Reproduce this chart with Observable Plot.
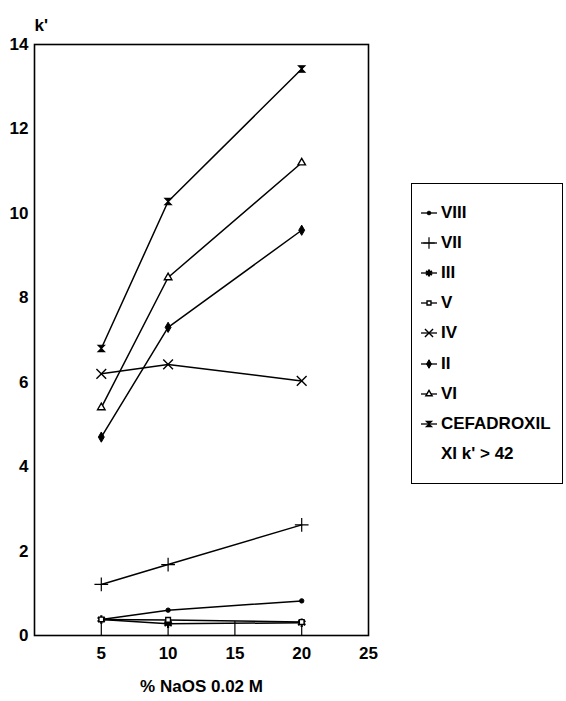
<!DOCTYPE html>
<html><head><meta charset="utf-8">
<script src="https://cdn.jsdelivr.net/npm/d3@7"></script>
<script src="https://cdn.jsdelivr.net/npm/@observablehq/plot@0.6"></script>
<style>
body{margin:0;background:#fff;}
#wrap{position:relative;width:566px;height:701px;font-family:"Liberation Sans",Arial,Helvetica,sans-serif;}
#legend{position:absolute;left:411px;top:183px;width:152px;height:301px;border:1.6px solid #000;box-sizing:border-box;background:#fff;}
.item{position:absolute;left:0;height:30px;display:flex;align-items:center;font-weight:bold;font-size:17px;color:#000;}
.item svg{margin-left:8px;margin-right:3px;}
</style>
</head><body>
<div id="wrap"><div id="chart"></div><div id="legend"></div></div>
<script>
// ---- data ----
const conc = [5, 10, 20];
const seriesNames = ["VIII", "VII", "III", "V", "IV", "II", "VI", "CEFADROXIL"];
const VIII = [0.38, 0.6, 0.82];
const VII = [1.21, 1.68, 2.62];
const III = [0.38, 0.28, 0.3];
const V = [0.38, 0.37, 0.32];
const IV = [6.2, 6.42, 6.03];
const II = [4.7, 7.3, 9.6];
const VI = [5.4, 8.48, 11.2];
const CEFADROXIL = [6.8, 10.28, 13.42];
const xTicks = [5, 10, 15, 20, 25];
const xInnerTicks = [5, 10, 15, 20];
const yTicks = [0, 2, 4, 6, 8, 10, 12, 14];
const noteText = "XI k' > 42";
const xTitle = "% NaOS 0.02 M";
const yTitle = "k'";

const seriesValues = [VIII, VII, III, V, IV, II, VI, CEFADROXIL];
const rows = seriesNames.flatMap((name, i) => conc.map((c, j) => ({series: name, x: c, y: seriesValues[i][j]})));

// custom hourglass symbol
const hourglass = {
  draw(ctx, size) {
    const s = Math.sqrt(size) / 2;
    ctx.moveTo(-s, -s); ctx.lineTo(s, -s); ctx.lineTo(-s, s); ctx.lineTo(s, s); ctx.closePath();
  }
};

const styles = {
  "VIII": {symbol: "circle", r: 2.2, fill: "black", stroke: "black", sw: 1},
  "VII": {symbol: "plus", r: 4.5, fill: "none", stroke: "black", sw: 1.2},
  "III": {symbol: "asterisk", r: 4, fill: "none", stroke: "black", sw: 2.2},
  "V": {symbol: "square2", r: 3, fill: "white", stroke: "black", sw: 1.4},
  "IV": {symbol: "times", r: 4.5, fill: "none", stroke: "black", sw: 1.4},
  "II": {symbol: "diamond", r: 3.1, fill: "black", stroke: "black", sw: 1},
  "VI": {symbol: "triangle2", r: 3.6, fill: "white", stroke: "black", sw: 1.4},
  "CEFADROXIL": {symbol: hourglass, r: 3.6, fill: "black", stroke: "black", sw: 1.2}
};

const marks = [
  Plot.frame({stroke: "black", strokeWidth: 1.6}),
  Plot.tickX(xInnerTicks, {x: d => d, insetTop: 577, stroke: "black", strokeWidth: 1.2}),
  Plot.axisX({ticks: xTicks, tickSize: 0, tickPadding: 11, label: null, fontSize: 17, fontWeight: "bold"}),
  Plot.axisY({ticks: yTicks, tickSize: 0, tickPadding: 6, label: null, fontSize: 17, fontWeight: "bold"}),
  Plot.line(rows, {x: "x", y: "y", z: "series", stroke: "black", strokeWidth: 1.5}),
  ...seriesNames.map(name => {
    const st = styles[name];
    return Plot.dot(rows.filter(d => d.series === name), {x: "x", y: "y", symbol: st.symbol, r: st.r, fill: st.fill, stroke: st.stroke, strokeWidth: st.sw});
  }),
  Plot.text([xTitle], {frameAnchor: "bottom", dy: 56, fontSize: 17, fontWeight: "bold", fill: "black"}),
  Plot.text([yTitle], {frameAnchor: "top-left", dy: -26, dx: 0, textAnchor: "start", fontSize: 17, fontWeight: "bold", fill: "black"})
];

const chart = Plot.plot({
  width: 566, height: 701,
  marginLeft: 34, marginRight: 198, marginTop: 44, marginBottom: 66,
  x: {domain: [0, 25]},
  y: {domain: [0, 14]},
  style: {fontFamily: '"Liberation Sans", Arial, Helvetica, sans-serif', color: "black", background: "white", overflow: "visible"},
  marks
});
document.getElementById("chart").appendChild(chart);

// legend
const symMap = {circle: d3.symbolCircle, plus: d3.symbolPlus, asterisk: d3.symbolAsterisk, square2: d3.symbolSquare2, times: d3.symbolTimes, diamond: d3.symbolDiamond, triangle2: d3.symbolTriangle2};
const legend = d3.select("#legend");
const itemTop0 = 14, itemStep = 30.1;
seriesNames.forEach((name, i) => {
  const st = styles[name];
  const item = legend.append("div").attr("class", "item").style("top", (itemTop0 + i * itemStep) + "px");
  const svg = item.append("svg").attr("width", 18).attr("height", 14);
  svg.append("line").attr("x1", 1).attr("x2", 17).attr("y1", 7).attr("y2", 7).attr("stroke", "black").attr("stroke-width", 1.3);
  const type = typeof st.symbol === "string" ? symMap[st.symbol] : st.symbol;
  svg.append("path").attr("transform", "translate(9,7)")
    .attr("d", d3.symbol().type(type).size(Math.PI * st.r * st.r * 0.7)())
    .attr("fill", st.fill).attr("stroke", st.stroke).attr("stroke-width", st.sw);
  item.append("span").text(name);
});
legend.append("div").attr("class", "item").style("top", (itemTop0 + seriesNames.length * itemStep) + "px")
  .style("left", "29px").text(noteText);
</script>
</body></html>
